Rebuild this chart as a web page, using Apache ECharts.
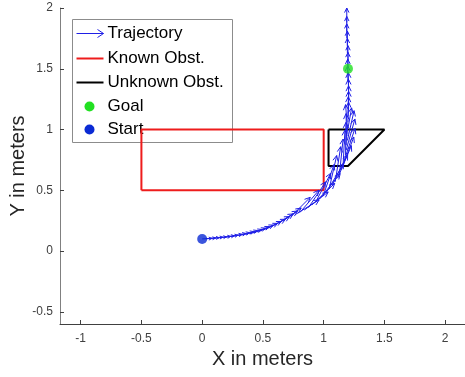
<!DOCTYPE html>
<html>
<head>
<meta charset="utf-8">
<script src="https://cdn.jsdelivr.net/npm/echarts@6/dist/echarts.min.js"></script>
<style>
  html, body { margin: 0; padding: 0; background: #fff; }
  #chart { width: 465px; height: 377px; }
</style>
</head>
<body>
<div id="chart"></div>
<script>
// trajectory sample points (x, y) and quiver vectors (u, v)
var trajX = [0.00, 0.03, 0.06, 0.09, 0.12, 0.15, 0.18, 0.21, 0.24, 0.27, 0.30, 0.33,
  0.36, 0.39, 0.42, 0.45, 0.48, 0.51, 0.54, 0.57, 0.60, 0.63, 0.66, 0.69,
  0.73, 0.765, 0.805, 0.84, 0.875, 0.905, 0.935, 0.965, 0.995, 1.02, 1.045, 1.07,
  1.095, 1.115, 1.13, 1.145, 1.16, 1.17, 1.18, 1.185, 1.19, 1.195, 1.20, 1.20,
  1.20, 1.20, 1.205, 1.205, 1.205, 1.205, 1.20, 1.20, 1.20, 1.20, 1.195, 1.195,
  1.19, 1.19, 1.19];
var trajY = [0.100, 0.102, 0.104, 0.106, 0.108, 0.110, 0.113, 0.116, 0.120, 0.124, 0.128, 0.132,
  0.137, 0.142, 0.149, 0.157, 0.166, 0.176, 0.188, 0.202, 0.218, 0.234, 0.250, 0.266,
  0.283, 0.300, 0.318, 0.337, 0.358, 0.381, 0.405, 0.428, 0.452, 0.48, 0.51, 0.54,
  0.57, 0.60, 0.635, 0.67, 0.71, 0.75, 0.79, 0.83, 0.87, 0.91, 0.96, 1.01,
  1.06, 1.11, 1.16, 1.21, 1.27, 1.33, 1.39, 1.45, 1.51, 1.57, 1.63, 1.69,
  1.75, 1.81, 1.88];
var trajU = [0.08, 0.08, 0.08, 0.08, 0.08, 0.085, 0.085, 0.085, 0.09, 0.09, 0.09, 0.095,
  0.095, 0.10, 0.10, 0.10, 0.105, 0.11, 0.11, 0.115, 0.12, 0.12, 0.125, 0.125,
  0.159, 0.198, 0.156, 0.197, 0.142, 0.186, 0.123, 0.171, 0.09, 0.145, 0.062, 0.127,
  0.045, 0.113, 0.03, 0.103, 0.015, 0.088, 0.003, 0.072, -0.006, 0.055, -0.02, 0.03,
  0.005, 0.003, 0.0, 0.0, -0.002, -0.003, -0.003, -0.002, 0.0, 0.0, 0.0, 0.0,
  0.0, 0.0, 0.0];
var trajV = [0.004, 0.005, 0.006, 0.008, 0.009, 0.011, 0.013, 0.015, 0.018, 0.021, 0.024, 0.028,
  0.032, 0.036, 0.040, 0.044, 0.048, 0.052, 0.056, 0.060, 0.066, 0.072, 0.080, 0.088,
  0.159, 0.121, 0.183, 0.149, 0.212, 0.176, 0.235, 0.209, 0.26, 0.242, 0.276, 0.254,
  0.289, 0.267, 0.287, 0.268, 0.285, 0.26, 0.268, 0.257, 0.261, 0.245, 0.245, 0.168,
  0.165, 0.16, 0.155, 0.15, 0.145, 0.14, 0.135, 0.13, 0.125, 0.12, 0.12, 0.12,
  0.12, 0.12, 0.12];

// known obstacle (red rectangle)
var knownX = [-0.5, -0.5, 1.0, 1.0, -0.5];
var knownY = [0.5, 1.0, 1.0, 0.5, 0.5];
// unknown obstacle (black polygon)
var unknownX = [1.04, 1.5, 1.2, 1.04, 1.04];
var unknownY = [1.0, 1.0, 0.7, 0.7, 1.0];

var goal = [1.2, 1.5];
var start = [0.0, 0.1];

var xTicks = [-1, -0.5, 0, 0.5, 1, 1.5, 2];
var yTicks = [-0.5, 0, 0.5, 1, 1.5, 2];

function zip(a, b) {
  var out = [];
  for (var i = 0; i < a.length; i++) out.push([a[i], b[i]]);
  return out;
}

var quiverData = [];
for (var i = 0; i < trajX.length; i++) {
  quiverData.push([trajX[i], trajY[i], trajU[i], trajV[i]]);
}

var trajColor = '#1f1fe6';

function renderArrow(params, api) {
  var x = api.value(0), y = api.value(1);
  var p0 = api.coord([x, y]);
  var p1 = api.coord([x + api.value(2), y + api.value(3)]);
  var dx = p1[0] - p0[0], dy = p1[1] - p0[1];
  var len = Math.sqrt(dx * dx + dy * dy);
  var ang = Math.atan2(dy, dx);
  var h = Math.min(len * 0.35, 6), a = 0.45;
  var l = [p1[0] - h * Math.cos(ang - a), p1[1] - h * Math.sin(ang - a)];
  var r = [p1[0] - h * Math.cos(ang + a), p1[1] - h * Math.sin(ang + a)];
  return {
    type: 'group',
    children: [
      { type: 'line', shape: { x1: p0[0], y1: p0[1], x2: p1[0], y2: p1[1] },
        style: { stroke: trajColor, lineWidth: 1 } },
      { type: 'polyline', shape: { points: [l, p1, r] },
        style: { stroke: trajColor, lineWidth: 1, fill: null } }
    ]
  };
}

var chart = echarts.init(document.getElementById('chart'));
var font = 'Liberation Sans, Arial, sans-serif';

var option = {
  animation: false,
  grid: { left: 60, right: 0, top: 8, bottom: 53, outerBoundsMode: 'none', containLabel: false },
  xAxis: {
    type: 'value',
    min: -1.17, max: 2.163,
    name: 'X in meters',
    nameLocation: 'middle',
    nameGap: 25,
    nameMoveOverlap: false,
    nameTextStyle: { fontSize: 20, color: '#262626', fontFamily: font },
    axisLine: { show: true, onZero: false, lineStyle: { color: '#404040', width: 1 } },
    axisTick: { show: true, inside: true, length: 4, customValues: xTicks, lineStyle: { color: '#404040' } },
    axisLabel: { customValues: xTicks, fontSize: 12, color: '#404040', fontFamily: font, margin: 9 },
    splitLine: { show: false }
  },
  yAxis: {
    type: 'value',
    min: -0.6, max: 2,
    name: 'Y in meters',
    nameLocation: 'middle',
    nameGap: 32,
    nameMoveOverlap: false,
    nameTextStyle: { fontSize: 20, color: '#262626', fontFamily: font },
    axisLine: { show: true, onZero: false, lineStyle: { color: '#808080', width: 1 } },
    axisTick: { show: true, inside: true, length: 4, customValues: yTicks, lineStyle: { color: '#404040' } },
    axisLabel: { customValues: yTicks, fontSize: 12, color: '#404040', fontFamily: font, margin: 7 },
    splitLine: { show: false }
  },
  series: [
    {
      name: 'Known Obst.',
      type: 'line',
      data: zip(knownX, knownY),
      showSymbol: false,
      lineStyle: { color: '#ee1c1c', width: 2 },
      z: 2
    },
    {
      name: 'Unknown Obst.',
      type: 'line',
      data: zip(unknownX, unknownY),
      showSymbol: false,
      lineStyle: { color: '#000000', width: 2 },
      z: 2
    },
    {
      name: 'Trajectory',
      type: 'custom',
      renderItem: renderArrow,
      encode: { x: 0, y: 1 },
      data: quiverData,
      z: 3
    },
    {
      name: 'Goal',
      type: 'scatter',
      data: [goal],
      symbolSize: 10,
      itemStyle: { color: '#22e022' },
      z: 4
    },
    {
      name: 'Start',
      type: 'scatter',
      data: [start],
      symbolSize: 10,
      itemStyle: { color: '#0a2ad4' },
      z: 4
    }
  ],
  graphic: [
    {
      type: 'group', left: 72, top: 19, z: 100,
      children: [
        { type: 'rect', shape: { x: 0, y: 0, width: 160, height: 123 },
          style: { fill: '#fff', stroke: '#8c8c8c', lineWidth: 1 } },
        { type: 'line', shape: { x1: 4, y1: 14, x2: 31, y2: 14 }, style: { stroke: trajColor, lineWidth: 1 } },
        { type: 'polyline', shape: { points: [[25, 10], [31, 14], [25, 18]] }, style: { stroke: trajColor, lineWidth: 1, fill: null } },
        { type: 'text', style: { x: 35, y: 14, text: 'Trajectory', font: '17px ' + font, fill: '#000', verticalAlign: 'middle' } },
        { type: 'line', shape: { x1: 4, y1: 39, x2: 31, y2: 39 }, style: { stroke: '#ee1c1c', lineWidth: 2 } },
        { type: 'text', style: { x: 35, y: 39, text: 'Known Obst.', font: '17px ' + font, fill: '#000', verticalAlign: 'middle' } },
        { type: 'line', shape: { x1: 4, y1: 63, x2: 31, y2: 63 }, style: { stroke: '#000', lineWidth: 2 } },
        { type: 'text', style: { x: 35, y: 63, text: 'Unknown Obst.', font: '17px ' + font, fill: '#000', verticalAlign: 'middle' } },
        { type: 'circle', shape: { cx: 17, cy: 87, r: 5 }, style: { fill: '#22e022' } },
        { type: 'text', style: { x: 35, y: 87, text: 'Goal', font: '17px ' + font, fill: '#000', verticalAlign: 'middle' } },
        { type: 'circle', shape: { cx: 17, cy: 110, r: 5 }, style: { fill: '#0a2ad4' } },
        { type: 'text', style: { x: 35, y: 110, text: 'Start', font: '17px ' + font, fill: '#000', verticalAlign: 'middle' } }
      ]
    }
  ]
};

chart.setOption(option);
</script>
</body>
</html>
